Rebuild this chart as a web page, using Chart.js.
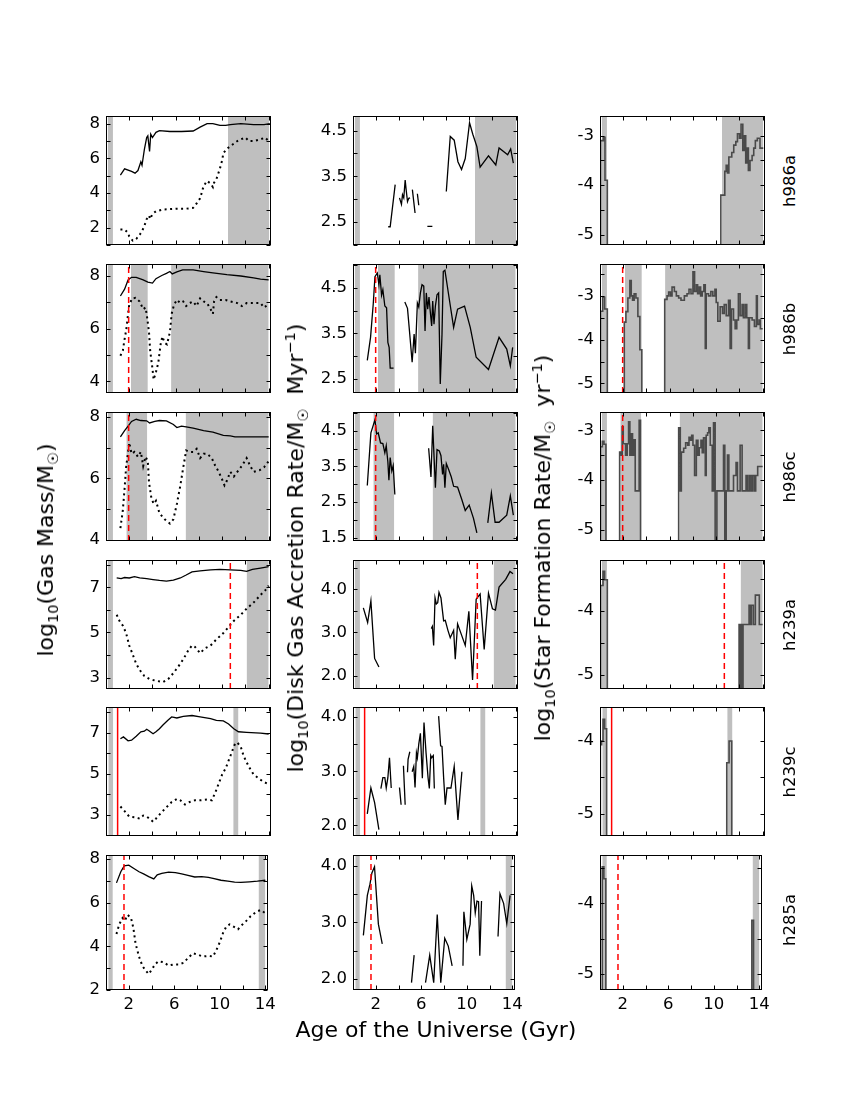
<!DOCTYPE html>
<html>
<head>
<meta charset="utf-8">
<script src="https://cdn.jsdelivr.net/npm/chart.js@4.4.0/dist/chart.umd.min.js"></script>
<style>
  body { margin: 0; background: #fff; }
  #fig { position: relative; width: 850px; height: 1100px; font-family: "DejaVu Sans", sans-serif; color: #000; overflow: hidden; }
  #fig canvas { position: absolute; }
  .txt { position: absolute; white-space: nowrap; transform: translate(-50%, -50%); line-height: 1; }
  .rot { transform: translate(-50%, -50%) rotate(-90deg); }
  .title { font-size: 22px; }
  .name { font-size: 16.5px; }
  sub, sup { font-size: 66%; line-height: 0; }
</style>
</head>
<body>
<div id="fig"></div>
<script>
// Galaxies (one row each) and shared x axis
const galaxies = ['h986a', 'h986b', 'h986c', 'h239a', 'h239c', 'h285a'];
const ageLabels = [2, 6, 10, 14];
const ageMin = 0, ageMax = 14.2;

// ---- h986a ----
const h986a_gasAge = [1.24,1.6,2.2,2.5,2.75,3.0,3.1,3.3,3.5,3.6,3.75,3.85,4.0,4.3,4.6,5.5,6.5,7.5,8.1,8.7,9.2,9.8,10.3,10.7,11.6,12.7,13.6,14.1];
const h986a_gas = [5.04,5.4,5.25,5.15,5.3,5.8,5.6,6.5,7.2,7.3,6.4,7.4,7.2,7.5,7.6,7.55,7.55,7.58,7.8,8.0,8.0,7.9,7.9,7.95,8.0,7.95,7.95,8.0];
const h986a_coldAge = [1.24,1.6,1.9,2.0,2.3,2.6,2.9,3.1,3.3,3.5,3.7,3.8,4.0,4.3,4.9,6.1,6.9,7.5,7.8,8.1,8.4,8.7,9.0,9.2,9.3,9.5,9.8,10.0,10.1,10.4,10.7,11.0,11.3,11.6,12.0,12.3,12.7,13.3,13.7,14.0];
const h986a_cold = [1.9,1.9,1.7,1.5,1.26,1.35,1.6,1.8,2.1,2.5,2.7,2.5,2.8,2.95,3.05,3.1,3.1,3.15,3.4,3.7,4.4,4.7,4.55,4.35,4.6,4.8,5.4,5.9,6.3,6.55,6.7,6.85,7.0,7.1,7.2,7.0,7.0,7.1,7.2,7.0];
const h986a_accAge = [3.03,3.2,3.63,3.8,4.0,4.17,4.26,4.37,4.49,4.57,4.69,4.8,4.91,5.0,5.11,5.34,5.45,5.54,5.66,6.0,6.4,6.83,7.4,8.03,8.37,8.71,9.03,9.34,9.66,10.03,10.31,10.66,10.94,11.66,12.29,12.57,13.31,13.57,13.8];
const h986a_acc = [2.4,2.4,3.32,null,3.03,2.89,3.1,3.03,3.42,3.22,2.95,3.02,3.03,null,3.21,2.7,null,3.12,2.87,null,2.41,2.41,null,3.17,4.37,4.29,3.82,3.65,3.89,4.67,4.42,4.15,3.7,3.95,3.75,4.12,3.97,4.1,3.79];
const h986a_sfrAge = [0,0.06,0.29,0.43,0.63,10.4,10.74,10.86,10.97,11.09,11.34,11.51,11.69,11.83,12.0,12.14,12.29,12.43,12.54,12.66,12.77,12.91,13.09,13.23,13.37,13.54,13.77,14.05];
const h986a_sfr = [-5.4,-3.1,-3.03,-3.9,-5.4,-4.2,-3.72,-3.6,-3.75,-3.43,-3.34,-3.19,-3.12,-2.96,-3.05,-2.77,-3.3,-3.0,-3.55,-3.25,-3.7,-3.5,-3.4,-3.25,-3.1,-3.05,-3.25,-3.25];
const h986a_bands = [[0.15, 0.6], [10.5, 14.05]];
const h986a_marker = [];

// ---- h986b ----
const h986b_gasAge = [1.24,1.6,1.9,2.2,2.6,3.2,3.6,4.0,4.3,4.8,5.2,5.5,5.7,6.1,6.6,7.5,8.4,9.2,10.4,11.6,12.7,13.3,14.0];
const h986b_gas = [7.24,7.5,7.85,7.95,7.95,7.85,7.77,7.73,7.9,8.02,8.1,8.17,8.08,8.16,8.23,8.23,8.17,8.12,8.05,8.0,7.93,7.88,7.85];
const h986b_coldAge = [1.24,1.45,1.6,1.75,1.9,2.0,2.25,2.55,2.9,3.2,3.4,3.5,3.7,3.8,4.0,4.1,4.3,4.5,4.7,4.85,5.05,5.25,5.5,5.65,5.85,6.1,6.4,6.65,6.9,7.2,7.5,7.8,8.1,8.4,8.7,9.0,9.2,9.3,9.5,9.8,10.3,10.7,11.3,11.7,12.1,12.7,13.3,13.6,13.9,14.0];
const h986b_cold = [4.97,5.17,5.6,5.98,6.56,6.9,7.15,7.17,7.03,6.74,6.8,6.56,5.87,5.17,4.47,4.06,4.35,4.7,5.4,5.7,5.46,5.4,5.87,6.56,6.9,7.09,6.97,7.03,6.86,6.97,7.03,6.86,7.15,7.03,6.97,6.74,6.56,7.03,7.2,7.09,7.09,7.03,6.97,6.86,6.97,6.97,6.97,6.8,6.9,6.86];
const h986b_accAge = [1.23,1.51,1.74,1.89,2.09,2.23,2.31,2.46,2.57,2.74,2.89,3.0,3.11,3.2,3.49,4.0,4.46,4.69,4.86,5.09,5.26,5.37,5.54,5.66,5.8,5.94,6.09,6.2,6.31,6.43,6.54,6.66,6.77,6.86,6.97,7.09,7.23,7.37,7.51,7.66,7.77,7.91,8.23,8.66,9.0,9.6,10.09,10.6,11.66,12.57,13.23,13.54,13.74];
const h986b_acc = [2.9,3.41,4.14,4.75,4.83,4.57,4.79,4.34,4.46,4.1,4.06,3.3,3.19,2.73,2.73,null,4.19,4.05,3.55,2.86,3.48,3.06,4.17,4.08,4.39,4.57,4.54,3.55,4.39,4.03,4.3,3.95,3.66,4.21,3.7,4.1,4.35,4.39,2.38,3.48,4.86,4.89,4.35,3.63,4.03,4.1,3.63,2.97,2.7,3.41,3.15,2.78,3.19];
const h986b_sfrAge = [0,0.06,0.23,0.4,0.63,2.09,2.23,2.4,2.57,2.69,2.8,2.94,3.09,3.26,3.43,3.6,5.57,5.77,5.91,6.06,6.2,6.4,6.57,6.77,6.97,7.26,7.49,7.66,7.83,8.0,8.14,8.29,8.4,8.54,8.66,8.8,8.94,9.06,9.14,9.34,9.54,9.71,9.89,10.0,10.14,10.34,10.54,10.69,10.86,11.06,11.2,11.31,11.49,11.63,11.77,11.91,12.06,12.23,12.34,12.49,12.63,12.77,12.86,13.09,13.29,13.46,13.54,13.69,13.8,14.0];
const h986b_sfr = [-5.4,-3.35,-3.03,-3.3,-5.4,-3.6,-3.36,-3.05,-2.65,-3.0,-3.1,-2.95,-3.05,-3.47,-4.23,-5.4,-3.08,-3.0,-2.91,-3.0,-2.8,-2.9,-3.0,-3.05,-3.1,-3.0,-2.95,-2.85,-2.95,-2.45,-2.9,-2.75,-2.95,-2.8,-3.0,-2.9,-2.75,-4.2,-2.95,-3.0,-2.9,-3.0,-2.85,-3.15,-3.58,-3.25,-3.4,-3.2,-3.45,-3.1,-4.2,-3.3,-3.55,-3.75,-3.55,-2.95,-3.45,-3.2,-3.5,-3.2,-3.5,-4.2,-3.5,-3.55,-3.7,-3.0,-3.65,-3.55,-3.75,-3.75];
const h986b_bands = [[0.15, 0.6], [2.15, 3.6], [5.6, 14.0]];
const h986b_marker = [1.95, 'dashed'];

// ---- h986c ----
const h986c_gasAge = [1.24,1.6,1.9,2.2,2.6,3.0,3.5,3.75,4.2,4.6,5.2,5.8,6.1,6.5,6.9,7.5,8.4,9.2,10.1,10.7,11.1,12.1,14.0];
const h986c_gas = [7.35,7.55,7.7,7.85,7.92,7.88,7.87,7.8,7.85,7.88,7.87,7.75,7.65,7.7,7.67,7.63,7.55,7.5,7.4,7.38,7.35,7.35,7.35];
const h986c_coldAge = [1.24,1.45,1.6,1.73,1.9,2.0,2.2,2.45,2.75,3.0,3.2,3.4,3.6,3.7,3.9,4.1,4.3,4.6,5.05,5.5,5.8,6.1,6.4,6.65,6.9,7.2,7.5,7.8,8.1,8.4,8.7,9.1,9.4,9.7,10.0,10.2,10.4,10.7,11.0,11.3,11.7,12.1,12.4,12.7,13.2,13.6,14.0];
const h986c_cold = [4.38,4.97,5.67,6.36,6.86,7.16,6.8,6.86,6.7,6.86,6.4,6.7,6.56,5.87,5.37,5.17,5.27,4.87,4.67,4.53,4.67,5.17,5.77,6.36,6.91,6.86,6.86,6.96,6.66,6.8,6.8,6.66,6.41,6.21,5.96,5.77,5.92,6.21,6.06,6.21,6.41,6.66,6.41,6.21,6.26,6.36,6.56];
const h986c_accAge = [1.23,1.54,1.74,1.89,2.03,2.17,2.37,2.57,2.74,2.86,3.0,3.09,3.2,3.34,3.46,3.6,5.0,6.51,6.71,6.86,7.09,7.23,7.43,7.57,7.71,7.8,7.91,8.03,8.23,8.46,8.66,9.0,9.37,9.66,10.0,10.37,10.66,11.1,11.6,11.91,12.23,12.57,13.23,13.54,13.8];
const h986c_acc = [2.96,4.44,4.65,4.81,4.41,4.44,4.16,4.14,3.88,4.08,3.63,3.11,3.75,3.37,3.52,2.71,null,4.01,3.2,4.64,2.9,3.97,3.93,3.8,3.27,3.56,2.9,3.58,3.41,3.2,2.94,2.92,2.56,2.26,2.41,2.04,1.63,null,1.91,2.75,1.93,1.93,2.13,2.67,2.13];
const h986c_sfrAge = [0,0.06,0.2,0.34,0.51,1.69,1.83,1.91,2.0,2.2,2.34,2.46,2.57,2.69,2.8,2.91,3.03,3.37,3.49,6.77,6.91,7.0,7.2,7.37,7.54,7.66,7.77,7.89,8.0,8.14,8.29,8.43,8.54,8.69,8.8,8.91,9.06,9.14,9.26,9.37,9.49,9.66,9.77,9.91,10.06,10.63,10.74,10.86,10.97,11.09,11.49,11.71,11.83,12.06,12.23,12.57,12.71,12.86,13.0,13.14,13.29,13.4,13.57,14.0];
const h986c_sfr = [-5.4,-3.33,-3.22,-3.28,-5.4,-3.44,-3.5,-2.93,-3.27,-3.5,-3.27,-2.83,-3.5,-3.07,-3.5,-3.19,-4.22,-2.8,-5.4,-2.95,-4.22,-3.44,-3.36,-3.25,-3.3,-3.14,-3.2,-3.1,-3.3,-3.91,-3.2,-3.5,-3.35,-3.2,-3.45,-3.15,-3.91,-3.1,-3.05,-2.95,-3.3,-4.22,-2.85,-5.4,-4.22,-3.3,-5.4,-4.22,-3.5,-4.22,-3.91,-3.65,-4.22,-3.3,-4.22,-3.91,-4.22,-3.91,-4.22,-3.91,-4.22,-3.91,-3.73,-3.73];
const h986c_bands = [[0.15, 0.6], [1.75, 3.55], [6.85, 14.0]];
const h986c_marker = [1.95, 'dashed'];

// ---- h239a ----
const h239a_gasAge = [0.92,1.3,1.6,2.0,2.45,2.9,3.5,4.05,4.6,5.2,5.8,6.4,6.9,7.4,8.1,9.0,9.8,10.7,11.6,12.1,12.6,13.3,14.0];
const h239a_gas = [7.41,7.38,7.43,7.41,7.47,7.41,7.38,7.34,7.3,7.27,7.31,7.41,7.54,7.68,7.72,7.77,7.79,7.77,7.75,7.7,7.79,7.85,7.91];
const h239a_coldAge = [0.92,1.16,1.45,1.73,2.0,2.3,2.6,2.9,3.3,3.75,4.3,4.9,5.35,5.8,6.2,6.65,7.1,7.4,7.65,8.1,8.5,9.0,9.5,10.1,10.55,11.0,11.6,12.1,12.7,13.3,13.7,14.0];
const h239a_cold = [5.78,5.51,5.3,4.97,4.42,4.02,3.61,3.34,3.07,2.93,2.86,2.8,2.93,3.2,3.47,3.81,4.22,4.42,4.36,4.08,4.29,4.42,4.69,4.97,5.24,5.51,5.78,6.05,6.32,6.66,6.86,7.07];
const h239a_accAge = [0.89,1.26,1.54,1.86,2.23,4.5,6.74,6.83,6.94,7.06,7.17,7.29,7.4,7.57,7.8,7.94,8.17,8.37,8.66,8.8,9.0,9.66,9.97,10.29,10.6,10.94,11.29,11.66,12.0,12.26,12.57,13.14,13.51,13.77];
const h239a_acc = [3.57,3.23,3.73,2.4,2.2,null,3.09,3.14,2.7,3.8,3.66,3.69,3.93,3.8,3.27,3.28,3.05,2.88,3.05,2.38,3.2,2.7,3.49,1.9,3.77,3.89,2.61,3.91,3.55,3.52,4.05,4.23,4.41,4.36];
const h239a_sfrAge = [0,0.06,0.26,0.4,0.63,11.97,12.03,12.09,12.14,12.2,12.26,12.31,12.83,12.97,13.03,13.2,13.37,13.71,14.0];
const h239a_sfr = [-5.4,-3.6,-3.38,-3.51,-5.4,-4.21,-5.4,-4.21,-5.4,-4.21,-5.4,-4.21,-3.91,-4.21,-3.91,-4.21,-3.75,-4.21,-4.21];
const h239a_bands = [[0.15, 0.6], [12.1, 14.0]];
const h239a_marker = [10.7, 'dashed'];

// ---- h239c ----
const h239c_gasAge = [1.24,1.5,1.9,2.2,2.6,3.0,3.3,3.5,3.7,4.05,4.3,4.6,4.9,5.35,5.65,6.1,6.65,7.4,8.1,9.0,9.5,10.1,10.55,11.0,11.4,12.1,13.3,14.0];
const h239c_gas = [6.7,6.79,6.6,6.63,6.82,7.04,7.07,7.16,7.09,6.94,7.04,7.19,7.37,7.61,7.76,7.71,7.79,7.83,7.76,7.68,7.59,7.57,7.42,7.19,7.04,7.01,6.97,6.93];
const h239c_coldAge = [1.24,1.6,2.0,2.45,2.9,3.2,3.5,3.75,4.05,4.3,4.75,5.2,5.65,6.1,6.4,6.8,7.2,7.65,8.1,8.7,9.1,9.4,9.7,10.0,10.3,10.55,10.85,11.1,11.3,11.6,11.85,12.3,12.7,13.2,13.6,14.0];
const h239c_cold = [3.4,3.18,2.91,2.88,2.81,2.96,2.91,2.81,2.66,2.81,3.1,3.36,3.62,3.77,3.7,3.5,3.62,3.7,3.7,3.74,3.7,4.07,4.52,4.96,5.26,5.63,6.08,6.45,6.52,6.3,5.85,5.33,4.96,4.74,4.59,4.49];
const h239c_accAge = [1.23,1.54,1.86,2.23,2.3,2.4,2.57,2.74,2.86,3.0,3.14,3.29,3.6,4.0,4.14,4.25,4.34,4.49,4.6,4.69,4.74,4.89,5.0,5.09,5.23,5.34,5.46,5.54,5.66,5.8,5.97,6.11,6.29,6.46,6.57,6.69,6.77,6.91,7.0,7.2,7.37,7.54,7.66,7.8,7.94,8.09,8.43,8.71,9.03,9.37];
const h239c_acc = [2.21,2.69,2.42,1.92,null,2.68,2.88,2.88,2.69,2.88,3.25,2.69,null,2.7,2.38,null,3.1,2.38,null,2.98,3.22,3.36,null,2.99,3.09,2.7,3.34,3.25,3.5,3.7,2.87,3.9,3.33,2.88,2.68,3.29,3.25,3.29,2.68,null,4.02,3.47,3.46,2.88,2.38,2.69,2.69,3.09,2.1,2.99];
const h239c_sfrAge = [0,0.03,0.14,0.26,0.4,0.57,10.91,11.11,11.34,14.1];
const h239c_sfr = [-5.4,-4.05,-4.0,-3.7,-3.83,-5.4,-4.3,-4.0,-5.4,-5.4];
const h239c_bands = [[0.2, 0.62], [10.95, 11.4]];
const h239c_marker = [1.0, 'solid'];

// ---- h285a ----
const h285a_gasAge = [0.92,1.3,1.6,2.0,2.45,2.9,3.3,3.75,4.2,4.5,4.9,5.5,6.1,6.65,7.2,7.8,8.4,9.0,9.5,10.1,10.7,11.3,11.85,12.6,13.3,14.0];
const h285a_gas = [6.9,7.41,7.68,7.71,7.56,7.41,7.31,7.19,7.08,7.27,7.34,7.39,7.37,7.31,7.24,7.17,7.19,7.15,7.09,7.02,6.98,6.93,6.92,6.95,6.98,7.02];
const h285a_coldAge = [0.92,1.16,1.45,1.65,1.9,2.2,2.4,2.6,2.9,3.2,3.5,3.75,4.05,4.3,4.6,5.05,5.5,5.95,6.4,6.8,7.2,7.65,8.1,8.5,9.0,9.4,9.7,10.0,10.3,10.55,10.85,11.1,11.6,11.85,12.3,12.7,13.2,13.6,14.0];
const h285a_cold = [4.56,5.0,5.29,5.17,5.44,5.29,4.85,4.12,3.53,3.1,2.88,2.73,2.95,3.17,3.31,3.27,3.12,3.17,3.17,3.24,3.46,3.68,3.61,3.53,3.56,3.53,3.83,4.19,4.63,4.88,5.0,4.93,4.78,4.93,5.15,5.37,5.58,5.66,5.51];
const h285a_accAge = [0.91,1.26,1.49,1.66,1.89,2.23,2.57,3.8,5.14,5.37,5.9,6.37,6.74,7.09,7.4,7.71,8.06,8.37,8.71,9.2,9.66,9.74,10.0,10.29,10.43,10.6,10.74,10.89,11.03,11.14,11.29,12.0,12.74,12.91,13.23,13.51,13.8];
const h285a_acc = [2.77,3.48,3.68,3.88,3.99,2.97,2.62,null,1.93,2.42,null,1.93,2.42,1.93,3.14,1.93,2.72,2.58,2.23,null,2.23,3.19,2.7,2.97,3.65,3.48,3.17,3.38,3.37,2.41,3.38,null,2.75,3.51,3.34,2.98,3.48];
const h285a_sfrAge = [0,0.2,0.34,0.51,13.34,13.49,14.1];
const h285a_sfr = [-5.4,-3.48,-3.65,-5.4,-4.24,-5.4,-5.4];
const h285a_bands = [[0.2, 0.6], [13.4, 14.0]];
const h285a_marker = [1.58, 'dashed'];

// Axis limits and labelled ticks, one entry per row
const gasRange = [[1.0, 8.45], [3.55, 8.46], [3.96, 8.16], [2.49, 8.21], [1.96, 8.25], [2.0, 8.18]];
const accRange = [[2.0, 4.82], [2.18, 5.03], [1.4, 5.03], [1.69, 4.68], [1.8, 4.19], [1.8, 4.2]];
const sfrRange = [[-5.21, -2.6], [-5.22, -2.27], [-5.23, -2.63], [-5.22, -3.2], [-5.31, -3.53], [-5.23, -3.31]];
const gasLabels = [[2, 4, 6, 8], [4, 6, 8], [4, 6, 8], [3, 5, 7], [3, 5, 7], [2, 4, 6, 8]];
const accLabels = [[2.5, 3.5, 4.5], [2.5, 3.5, 4.5], [1.5, 2.5, 3.5, 4.5], [2.0, 3.0, 4.0], [2.0, 3.0, 4.0], [2.0, 3.0, 4.0]];
const sfrLabels = [[-5, -4, -3], [-5, -4, -3], [-5, -4, -3], [-5, -4], [-5, -4], [-5, -4]];

const rows = [
  { gasAge: h986a_gasAge, gas: h986a_gas, coldAge: h986a_coldAge, cold: h986a_cold, accAge: h986a_accAge, acc: h986a_acc, sfrAge: h986a_sfrAge, sfr: h986a_sfr, bands: h986a_bands, marker: h986a_marker },
  { gasAge: h986b_gasAge, gas: h986b_gas, coldAge: h986b_coldAge, cold: h986b_cold, accAge: h986b_accAge, acc: h986b_acc, sfrAge: h986b_sfrAge, sfr: h986b_sfr, bands: h986b_bands, marker: h986b_marker },
  { gasAge: h986c_gasAge, gas: h986c_gas, coldAge: h986c_coldAge, cold: h986c_cold, accAge: h986c_accAge, acc: h986c_acc, sfrAge: h986c_sfrAge, sfr: h986c_sfr, bands: h986c_bands, marker: h986c_marker },
  { gasAge: h239a_gasAge, gas: h239a_gas, coldAge: h239a_coldAge, cold: h239a_cold, accAge: h239a_accAge, acc: h239a_acc, sfrAge: h239a_sfrAge, sfr: h239a_sfr, bands: h239a_bands, marker: h239a_marker },
  { gasAge: h239c_gasAge, gas: h239c_gas, coldAge: h239c_coldAge, cold: h239c_cold, accAge: h239c_accAge, acc: h239c_acc, sfrAge: h239c_sfrAge, sfr: h239c_sfr, bands: h239c_bands, marker: h239c_marker },
  { gasAge: h285a_gasAge, gas: h285a_gas, coldAge: h285a_coldAge, cold: h285a_cold, accAge: h285a_accAge, acc: h285a_acc, sfrAge: h285a_sfrAge, sfr: h285a_sfr, bands: h285a_bands, marker: h285a_marker }
];

// Layout of the grid
const colLeft = [106, 353, 600];
const rowTop = [110, 258, 406, 554, 701, 849];
const panelW = 165, panelH = 141;
const padL = 55, padT = 10, padR = 10;

Chart.defaults.font.family = '"DejaVu Sans", sans-serif';
Chart.defaults.font.size = 16.5;
Chart.defaults.color = '#000';

const zip = (xs, ys) => xs.map((x, i) => ({ x: x, y: ys[i] }));
const hasLabel = (list, v) => list.some(l => Math.abs(l - v) < 1e-6);

// Frame around the axes plus inward ticks on all four sides
const framePlugin = {
  id: 'frame',
  afterDatasetsDraw(chart) {
    const { ctx, chartArea: a, scales } = chart;
    const l = Math.round(a.left) + 0.5, r = Math.round(a.right) - 0.5;
    const t = Math.round(a.top) + 0.5, b = Math.round(a.bottom) - 0.5;
    ctx.save();
    ctx.strokeStyle = '#000';
    ctx.lineWidth = 1;
    ctx.beginPath();
    scales.x.ticks.forEach(tk => {
      const px = Math.round(scales.x.getPixelForValue(tk.value)) + 0.5;
      ctx.moveTo(px, b); ctx.lineTo(px, b - 4);
      ctx.moveTo(px, t); ctx.lineTo(px, t + 4);
    });
    scales.y.ticks.forEach(tk => {
      const py = Math.round(scales.y.getPixelForValue(tk.value)) + 0.5;
      ctx.moveTo(l, py); ctx.lineTo(l + 4, py);
      ctx.moveTo(r, py); ctx.lineTo(r - 4, py);
    });
    ctx.stroke();
    ctx.strokeRect(l, t, r - l, b - t);
    ctx.restore();
  }
};

const fig = document.getElementById('fig');

function makePanel(r, c, lines, range, labels, step, fmt) {
  const row = rows[r];
  const bottomRow = r === rows.length - 1;
  const xAxisH = bottomRow ? 32 : 0;
  const canvas = document.createElement('canvas');
  const w = padL + panelW + padR;
  const h = padT + panelH + (bottomRow ? xAxisH : padT);
  canvas.width = w; canvas.height = h;
  canvas.style.width = w + 'px'; canvas.style.height = h + 'px';
  canvas.style.left = (colLeft[c] - padL) + 'px';
  canvas.style.top = (rowTop[r] - padT) + 'px';
  fig.appendChild(canvas);

  const datasets = [];
  // grey shaded periods
  row.bands.forEach(([a, b]) => {
    datasets.push({
      data: [{ x: a, y: range[1] }, { x: b, y: range[1] }],
      fill: 'start', backgroundColor: '#bfbfbf',
      borderColor: 'rgba(0,0,0,0)', borderWidth: 0, pointRadius: 0, order: 5
    });
  });
  lines.forEach(d => datasets.push(Object.assign({ pointRadius: 0, fill: false, order: 2, spanGaps: false }, d)));
  // red marker line
  if (row.marker.length) {
    datasets.push({
      data: [{ x: row.marker[0], y: range[0] }, { x: row.marker[0], y: range[1] }],
      borderColor: '#ff0000', borderWidth: 1.5, pointRadius: 0, order: 0,
      borderDash: row.marker[1] === 'dashed' ? [6, 4] : []
    });
  }

  new Chart(canvas, {
    type: 'line',
    data: { datasets: datasets },
    plugins: [framePlugin],
    options: {
      responsive: false,
      animation: false,
      events: [],
      clip: 0,
      layout: { padding: { left: 0, top: padT, right: padR, bottom: bottomRow ? 0 : padT } },
      plugins: { legend: { display: false }, tooltip: { enabled: false } },
      scales: {
        x: {
          type: 'linear', min: ageMin, max: ageMax,
          grid: { display: false, drawTicks: false },
          border: { display: false },
          ticks: {
            display: bottomRow, stepSize: 2, includeBounds: false, autoSkip: false, maxRotation: 0, padding: 5,
            callback: v => hasLabel(ageLabels, v) ? String(v) : ''
          },
          afterFit: s => { s.height = xAxisH; }
        },
        y: {
          type: 'linear', min: range[0], max: range[1],
          grid: { display: false, drawTicks: false },
          border: { display: false },
          ticks: {
            stepSize: step, includeBounds: false, autoSkip: false, padding: 6,
            callback: v => hasLabel(labels, v) ? fmt(v) : ''
          },
          afterFit: s => { s.width = padL; }
        }
      }
    }
  });
}

rows.forEach((row, r) => {
  // gas mass: total (solid) and dotted component
  makePanel(r, 0, [
    { data: zip(row.gasAge, row.gas), borderColor: '#000', borderWidth: 1.3 },
    { data: zip(row.coldAge, row.cold), borderColor: '#000', borderWidth: 2, borderDash: [2, 3.5] }
  ], gasRange[r], gasLabels[r], 1, v => String(Math.round(v)));
  // accretion rate (gaps where no data)
  makePanel(r, 1, [
    { data: zip(row.accAge, row.acc), borderColor: '#000', borderWidth: 1.3 }
  ], accRange[r], accLabels[r], 0.5, v => v.toFixed(1));
  // star formation rate as a step curve
  makePanel(r, 2, [
    { data: zip(row.sfrAge, row.sfr), borderColor: '#4a4a4a', borderWidth: 1.6, stepped: true }
  ], sfrRange[r], sfrLabels[r], 0.5, v => String(Math.round(v)));

  const name = document.createElement('div');
  name.className = 'txt rot name';
  name.style.left = '790px';
  name.style.top = (rowTop[r] + panelH / 2) + 'px';
  name.textContent = galaxies[r];
  fig.appendChild(name);
});

// Axis titles
const titles = [
  { html: 'log<sub>10</sub>(Gas Mass/M<sub>☉</sub>)', x: 46, y: 550, rot: true },
  { html: 'log<sub>10</sub>(Disk Gas Accretion Rate/M<sub>☉</sub>&nbsp; Myr<sup>−1</sup>)', x: 296, y: 548, rot: true },
  { html: 'log<sub>10</sub>(Star Formation Rate/M<sub>☉</sub>&nbsp; yr<sup>−1</sup>)', x: 543, y: 548, rot: true },
  { html: 'Age of the Universe (Gyr)', x: 436, y: 1030, rot: false }
];
titles.forEach(t => {
  const d = document.createElement('div');
  d.className = 'txt title' + (t.rot ? ' rot' : '');
  d.style.left = t.x + 'px';
  d.style.top = t.y + 'px';
  d.innerHTML = t.html;
  fig.appendChild(d);
});
</script>
</body>
</html>
